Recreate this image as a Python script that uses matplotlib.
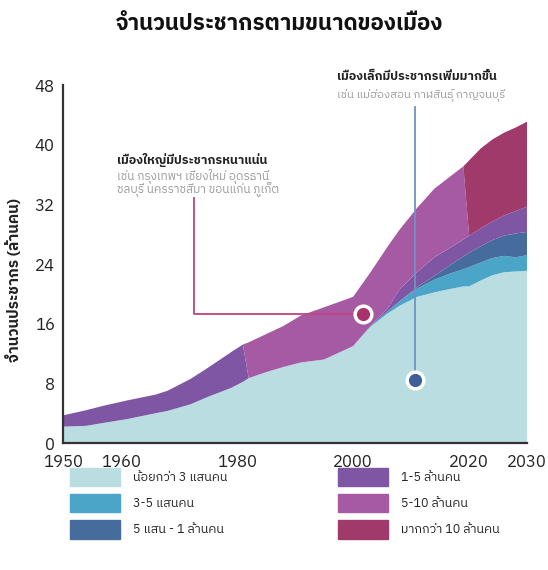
import matplotlib
matplotlib.use('Agg')
import matplotlib.pyplot as plt
from matplotlib.patches import Rectangle

# ฟอนต์ไทย
plt.rcParams['font.family'] = ['IBM Plex Sans Thai', 'DejaVu Sans']

years = [1950, 1954, 1957, 1961, 1966, 1968, 1972, 1975, 1979, 1981, 1982, 1985, 1988,
         1991, 1995, 2000, 2003, 2006, 2008, 2011, 2014, 2017, 2019, 2020, 2022, 2024,
         2026, 2028, 2030]

# ล้านคน (thickness of each band)
under_300k = [2.2, 2.3, 2.7, 3.2, 4.0, 4.3, 5.2, 6.2, 7.4, 8.2, 8.7, 9.5, 10.2,
              10.8, 11.2, 13.0, 15.6, 17.4, 18.4, 19.6, 20.2, 20.7, 21.0, 21.0, 21.8, 22.5,
              22.9, 23.0, 23.1]
k300_500 = [0, 0, 0, 0, 0, 0, 0, 0, 0, 0, 0, 0, 0,
            0, 0, 0, 0.1, 0.3, 0.6, 1.1, 1.7, 2.1, 2.3, 2.6, 2.4, 2.3,
            2.2, 1.9, 2.1]
k500_1m = [0, 0, 0, 0, 0, 0, 0, 0, 0, 0, 0, 0, 0,
           0, 0, 0, 0, 0, 0, 0.2, 0.5, 1.2, 1.7, 1.9, 2.2, 2.4,
           2.7, 3.2, 3.1]
m1_5 = [1.5, 2.1, 2.3, 2.5, 2.5, 2.7, 3.4, 3.9, 4.8, 5.0, 0, 0, 0,
        0, 0, 0, 0, 0.4, 1.6, 2.0, 2.5, 2.3, 2.3, 2.3, 2.4, 2.5,
        2.7, 3.0, 3.4]
m5_10 = [0, 0, 0, 0, 0, 0, 0, 0, 0, 0, 4.8, 5.1, 5.5,
         6.3, 7.0, 6.6, 7.2, 8.3, 8.0, 8.6, 9.2, 9.6, 9.8, 0, 0, 0,
         0, 0, 0]
over_10m = [0, 0, 0, 0, 0, 0, 0, 0, 0, 0, 0, 0, 0,
            0, 0, 0, 0, 0, 0, 0, 0, 0, 0, 10.1, 10.7, 11.0,
            11.1, 11.2, 11.4]

labels = ['น้อยกว่า 3 แสนคน', '3-5 แสนคน', '5 แสน - 1 ล้านคน',
          '1-5 ล้านคน', '5-10 ล้านคน', 'มากกว่า 10 ล้านคน']
colors = ['#b9dde0', '#4aa5c8', '#466b9d', '#7f56a4', '#a65aa3', '#a03a6b']

xticks = [1950, 1960, 1980, 2000, 2020, 2030]
yticks = [0, 8, 16, 24, 32, 40, 48]

fig = plt.figure(figsize=(5.48, 5.70), dpi=100)
ax = fig.add_axes([0.115, 0.2228, 0.847, 0.628])

ax.stackplot(years, under_300k, k300_500, k500_1m, m1_5, m5_10, over_10m,
             colors=colors, linewidth=0)

ax.set_xlim(1950, 2030)
ax.set_ylim(0, 48)
ax.set_xticks(xticks)
ax.set_yticks(yticks)
ax.tick_params(length=0, labelsize=12, colors='#222222')
ax.tick_params(axis='x', pad=8)
ax.tick_params(axis='y', pad=6)
for s in ['top', 'right']:
    ax.spines[s].set_visible(False)
for s in ['left', 'bottom']:
    ax.spines[s].set_color('#333333')
    ax.spines[s].set_linewidth(1.6)
ax.set_ylabel('จำนวนประชากร (ล้านคน)', fontsize=11, fontweight='bold', color='#222222')
ax.yaxis.set_label_coords(-0.088, 0.455)

# เมืองใหญ่
ax.plot([2001.7, 1972.5, 1972.5], [17.25, 17.25, 32.8], color='#c2447c', lw=1.3,
        clip_on=False, zorder=3)
ax.plot([2001.7], [17.25], 'o', ms=12, mfc='#a8336a', mec='white', mew=2.5, zorder=4)
ax.text(1959.3, 37.9, 'เมืองใหญ่มีประชากรหนาแน่น', fontsize=9, fontweight='bold',
        color='#222222', va='center')
ax.text(1959.3, 36.8, 'เช่น กรุงเทพฯ เชียงใหม่ อุดรธานี\nชลบุรี นครราชสีมา ขอนแก่น ภูเก็ต',
        fontsize=8.5, color='#999999', va='top', linespacing=0.88)

# เมืองเล็ก
ax.plot([2010.6, 2010.6], [8.4, 45.0], color='#6f93c4', lw=1.3, clip_on=False, zorder=3)
ax.plot([2010.6], [8.4], 'o', ms=12, mfc='#3e5f9a', mec='white', mew=2.5, zorder=4)
ax.text(1997.3, 49.1, 'เมืองเล็กมีประชากรเพิ่มมากขึ้น', fontsize=9, fontweight='bold',
        color='#222222', va='center', clip_on=False)
ax.text(1997.3, 46.6, 'เช่น แม่ฮ่องสอน กาฬสินธุ์ กาญจนบุรี', fontsize=8.2,
        color='#999999', va='center', clip_on=False)

fig.text(0.51, 0.958, 'จำนวนประชากรตามขนาดของเมือง', fontsize=16, fontweight='bold',
         ha='center', va='center', color='#111111')

# legend
col_x = [0.128, 0.617]
row_y = [0.163, 0.117, 0.071]
for i, (lab, c) in enumerate(zip(labels, colors)):
    x = col_x[i // 3]
    y = row_y[i % 3]
    fig.add_artist(Rectangle((x, y - 0.016), 0.091, 0.032, color=c,
                             transform=fig.transFigure))
    fig.text(x + 0.115, y, lab, fontsize=9, va='center', color='#222222')

plt.savefig('out.png', dpi=100)
